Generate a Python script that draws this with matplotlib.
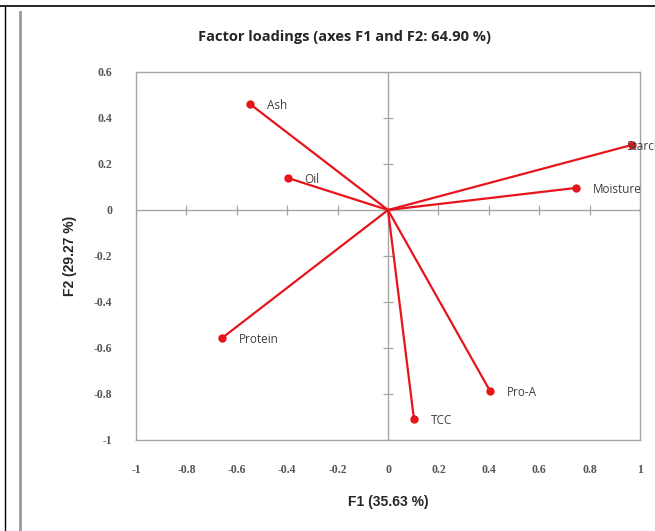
import numpy as np
import matplotlib
matplotlib.use("Agg")
import matplotlib.pyplot as plt
from matplotlib.lines import Line2D

# factor loadings
variables = ["Ash", "Oil", "Starch", "Moisture", "Protein", "Pro-A", "TCC"]
f1 = [-0.548, -0.397, 0.968, 0.746, -0.659, 0.405, 0.103]
f2 = [0.461, 0.139, 0.283, 0.096, -0.557, -0.787, -0.909]
# label offsets in points (Excel nudged the Starch label onto its marker)
label_dx = [12, 12, -4, 12, 12, 12, 12]

x_ticks = [-1, -0.8, -0.6, -0.4, -0.2, 0, 0.2, 0.4, 0.6, 0.8, 1]
y_ticks = [-1, -0.8, -0.6, -0.4, -0.2, 0, 0.2, 0.4, 0.6]

RED = "#e8141b"
GRID = "#a6a6a6"

fig = plt.figure(figsize=(6.55, 5.31), dpi=100)
ax = fig.add_axes([136 / 655, 1 - 440 / 531, 504 / 655, 368 / 531])
ax.set_xlim(-1, 1)
ax.set_ylim(-1, 0.6)

for s in ax.spines.values():
    s.set_color(GRID)
    s.set_linewidth(1.0)

# axes crossing at the origin, with cross ticks
ax.axhline(0, color=GRID, lw=1.0, zorder=1)
ax.axvline(0, color=GRID, lw=1.0, zorder=1)
ax.plot(x_ticks, np.zeros(len(x_ticks)), ls="none", marker="|", ms=7,
        mew=0.9, color=GRID, zorder=1)
ax.plot(np.zeros(len(y_ticks)), y_ticks, ls="none", marker="_", ms=7,
        mew=0.9, color=GRID, zorder=1)

for name, x, y, dx in zip(variables, f1, f2, label_dx):
    ax.plot([0, x], [0, y], color=RED, lw=1.6, zorder=3)
    ax.plot(x, y, "o", color=RED, ms=5, zorder=4)
    ax.annotate(name, (x, y), xytext=(dx, -1), textcoords="offset points",
                va="center", ha="left", fontsize=8.5, color="#404040",
                family="Open Sans", annotation_clip=False, zorder=5)

ax.set_xticks(x_ticks)
ax.set_yticks(y_ticks)
ax.set_xticklabels([f"{v:g}" for v in x_ticks])
ax.set_yticklabels([f"{v:g}" for v in y_ticks])
ax.tick_params(length=0, labelsize=8.5, labelcolor="#555555")
ax.tick_params(axis="x", pad=17)
ax.tick_params(axis="y", pad=17)
for t in ax.get_xticklabels() + ax.get_yticklabels():
    t.set_family("Liberation Serif")
    t.set_fontweight("bold")

ax.set_xlabel("F1 (35.63 %)", fontsize=10, fontweight="bold",
              family="Liberation Sans", color="#262626", labelpad=14)
ax.set_ylabel("F2 (29.27 %)", fontsize=10, fontweight="bold",
              family="Liberation Sans", color="#262626", labelpad=12)
fig.text(345 / 655, 1 - 37 / 531, "Factor loadings (axes F1 and F2: 64.90 %)",
         ha="center", va="center", fontsize=10.5, fontweight="bold",
         family="Open Sans", color="#262626")

# outer page borders
fig.add_artist(Line2D([0, 1], [1 - 6 / 531, 1 - 6 / 531], color="black",
                      lw=1.2, transform=fig.transFigure))
fig.add_artist(Line2D([5 / 655, 5 / 655], [0, 1 - 6 / 531], color="black",
                      lw=1.0, transform=fig.transFigure))
fig.add_artist(Line2D([20 / 655, 20 / 655], [0, 1 - 12 / 531], color="#9a9a9a",
                      lw=2.0, transform=fig.transFigure))

fig.savefig("out.png", dpi=100)
